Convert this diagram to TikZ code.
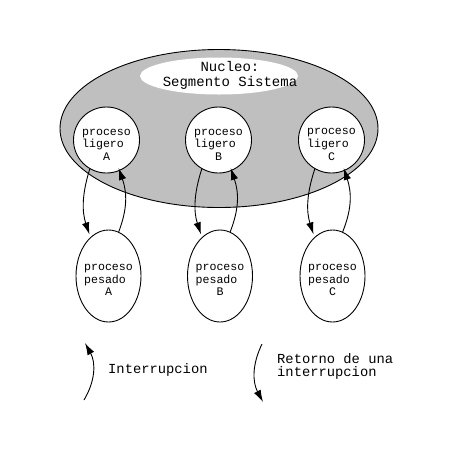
\documentclass[tikz,border=0pt]{standalone}
\usepackage{fontspec}
\setmonofont{Liberation Mono}
\usetikzlibrary{shapes.geometric,arrows.meta}
\tikzset{
  proc/.style={draw, line width=0.9pt, fill=white, inner sep=0pt},
  ligero/.style={proc, circle, minimum size=66pt},
  pesado/.style={proc, ellipse, minimum width=65pt, minimum height=92pt},
  ptext/.style={font=\ttfamily\fontsize{11.6}{12.6}\selectfont, align=left, inner sep=0pt},
  arr/.style={line width=0.9pt, -{Latex[length=12pt,width=7.5pt]}},
  legtext/.style={font=\ttfamily\fontsize{13.8}{13}\selectfont, align=left, anchor=west, inner sep=0pt}
}
\begin{document}
\begin{tikzpicture}[x=1pt,y=-1pt]
\useasboundingbox (0,0) rectangle (462,459);
% kernel
\node[draw, line width=0.9pt, fill=gray!50, ellipse, minimum width=318pt, minimum height=158pt, inner sep=0pt] (kernel) at (219,128.5) {};
\node[fill=white, ellipse, minimum width=158pt, minimum height=37pt, inner sep=0pt] (segm) at (219,76) {};
\node[font=\ttfamily\fontsize{14}{14.3}\selectfont, align=center, inner sep=0pt] (nucleotext) at (230,75.5) {Nucleo:\\Segmento Sistema};
% light processes
\node[ligero] (la) at (106.5,140) {};
\node[ligero] (lb) at (218.5,140) {};
\node[ligero] (lc) at (331.5,140) {};
\node[ptext] (lat) at (106.5,144.5) {proceso\\ligero\\\phantom{xxx}A};
\node[ptext] (lbt) at (218.5,144.5) {proceso\\ligero\\\phantom{xxx}B};
\node[ptext] (lct) at (331.5,144.5) {proceso\\ligero\\\phantom{xxx}C};
% heavy processes
\node[pesado] (pa) at (108.5,276) {};
\node[pesado] (pb) at (220,276) {};
\node[pesado] (pc) at (332.5,276) {};
\node[ptext] (pat) at (108.5,280) {proceso\\pesado\\\phantom{xxx}A};
\node[ptext] (pbt) at (220,280) {proceso\\pesado\\\phantom{xxx}B};
\node[ptext] (pct) at (332.5,280) {proceso\\pesado\\\phantom{xxx}C};
% arrows
\foreach \l/\p in {la/pa, lb/pb, lc/pc}{
  \draw[arr, shorten >=3pt] (\l.240) to[bend right=18] (\p.115);
  \draw[arr, shorten >=-3pt] (\p.77) to[bend right=20] (\l.293);
}
% legend
\coordinate (i1) at (84,400);
\coordinate (i2) at (85,343);
\draw[arr] (i1) to[bend right=30] (i2);
\node[legtext] (itext) at (108,370) {Interrupcion};
\coordinate (r1) at (262,344);
\coordinate (r2) at (263,402);
\draw[arr] (r1) to[bend right=27] (r2);
\node[legtext] (rtext) at (277,366) {Retorno de una\\interrupcion};
\end{tikzpicture}
\end{document}
